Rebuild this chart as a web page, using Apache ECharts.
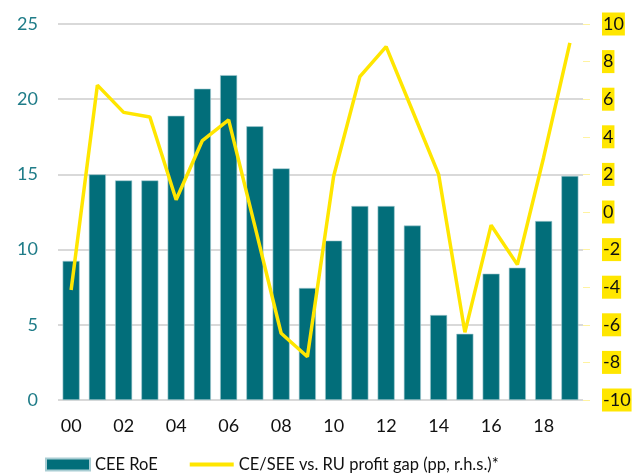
<!DOCTYPE html>
<html>
<head>
<meta charset="utf-8">
<script src="https://cdn.jsdelivr.net/npm/echarts@6/dist/echarts.min.js"></script>
<style>
  html, body { margin: 0; padding: 0; background: #fff; }
  #chart { width: 641px; height: 476px; }
</style>
</head>
<body>
<div id="chart"></div>
<script>
var years = ['00','01','02','03','04','05','06','07','08','09','10','11','12','13','14','15','16','17','18','19'];
// CEE RoE (lhs)
var roe = [9.25, 15.0, 14.6, 14.6, 18.9, 20.7, 21.6, 18.2, 15.4, 7.45, 10.6, 12.9, 12.9, 11.6, 5.65, 4.4, 8.4, 8.8, 11.9, 14.9];
// CE/SEE vs RU profit gap (rhs)
var gap = [-4.15, 6.75, 5.3, 5.05, 0.65, 3.8, 4.9, -0.75, -6.45, -7.7, 1.9, 7.2, 8.8, 5.4, 2.0, -6.4, -0.7, -2.8, 2.9, 9.0];

var chart = echarts.init(document.getElementById('chart'));
var font = 'Lato';

chart.setOption({
  animation: false,
  grid: { left: 58, right: 58, top: 24, bottom: 76 },
  legend: {
    left: 40,
    top: 451,
    itemWidth: 44,
    itemHeight: 12,
    itemGap: 30,
    textStyle: { fontFamily: font, fontSize: 16.5, color: '#111' },
    data: [
      { name: 'CEE RoE', icon: 'rect' },
      { name: 'CE/SEE vs. RU profit gap (pp, r.h.s.)*', itemStyle: { opacity: 0 }, lineStyle: { width: 4 } }
    ]
  },
  xAxis: {
    type: 'category',
    data: years,
    axisLine: { show: false },
    axisTick: { show: false },
    axisLabel: {
      interval: 1,
      margin: 17,
      fontFamily: font,
      fontSize: 18,
      color: '#111'
    }
  },
  yAxis: [
    {
      type: 'value',
      min: 0, max: 25, interval: 5,
      axisLine: { show: false },
      axisTick: { show: false },
      splitLine: { lineStyle: { color: '#d9d9d9', width: 2 } },
      axisLabel: { margin: 20, fontFamily: font, fontSize: 18, color: '#1f7c88' }
    },
    {
      type: 'value',
      min: -10, max: 10, interval: 2,
      position: 'right',
      axisLine: { show: false },
      axisTick: { show: true, length: 7, lineStyle: { color: '#fff3a0' } },
      splitLine: { show: false },
      axisLabel: {
        margin: 19,
        fontFamily: font,
        fontSize: 18,
        color: '#111',
        backgroundColor: '#ffe600',
        padding: [3, 1, 2, 1]
      }
    }
  ],
  series: [
    {
      name: 'CEE RoE',
      type: 'bar',
      data: roe,
      barWidth: '65%',
      itemStyle: { color: '#026e7a', borderColor: '#a9cdd3', borderWidth: 0.6 }
    },
    {
      name: 'CE/SEE vs. RU profit gap (pp, r.h.s.)*',
      type: 'line',
      yAxisIndex: 1,
      data: gap,
      symbol: 'none',
      lineStyle: { color: '#ffe600', width: 3.5 },
      itemStyle: { color: '#ffe600' }
    }
  ]
});
</script>
</body>
</html>
